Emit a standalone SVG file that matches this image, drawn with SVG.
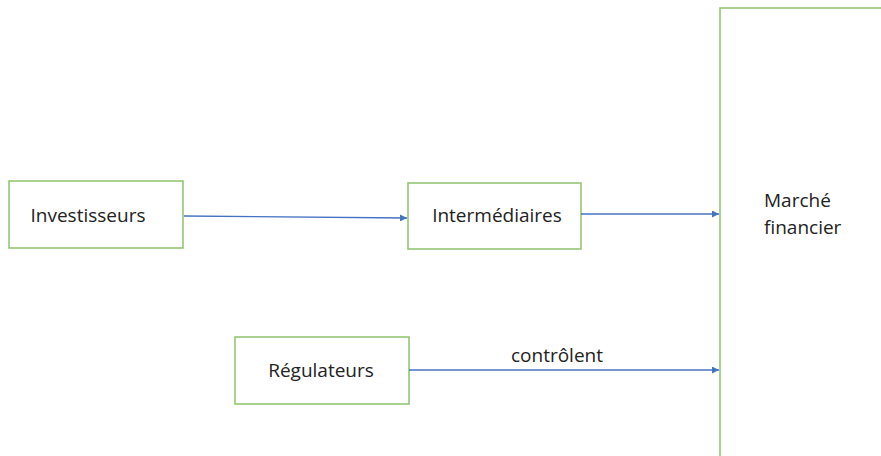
<svg xmlns="http://www.w3.org/2000/svg" width="881" height="456" viewBox="0 0 881 456">
<style>
.box{fill:#fff;stroke:#8DC26B;stroke-width:1.5}
.lbl{font-family:"Open Sans","Liberation Sans",sans-serif;font-size:19px;fill:#222}
.edge{stroke:#4472C4;stroke-width:1.3;fill:none;marker-end:url(#ah)}
</style>
<defs>
<marker id="ah" viewBox="0 0 10 10" refX="10" refY="5" markerWidth="7" markerHeight="7" markerUnits="userSpaceOnUse" orient="auto">
<path d="M0,0 L10,5 L0,10 z" fill="#4472C4"/>
</marker>
</defs>
<rect width="881" height="456" fill="#fff"/>
<g id="marche">
<rect class="box" x="720" y="8" width="200" height="470" stroke-width="2"/>
<text class="lbl" x="764" y="207">Marché</text>
<text class="lbl" x="764" y="234">financier</text>
</g>
<g id="investisseurs">
<rect class="box" x="9" y="181" width="174" height="67"/>
<text class="lbl" x="88" y="222" text-anchor="middle">Investisseurs</text>
</g>
<g id="intermediaires">
<rect class="box" x="408" y="183" width="173" height="66"/>
<text class="lbl" x="497" y="222" text-anchor="middle">Intermédiaires</text>
</g>
<g id="regulateurs">
<rect class="box" x="235" y="337" width="174" height="67"/>
<text class="lbl" x="321" y="377" text-anchor="middle">Régulateurs</text>
</g>
<g id="connectors">
<path class="edge" d="M184,216 L407,218"/>
<path class="edge" d="M581,214 L719,214"/>
<path class="edge" d="M409,370 L719,370"/>
<text class="lbl" x="557" y="362" text-anchor="middle">contrôlent</text>
</g>
</svg>
